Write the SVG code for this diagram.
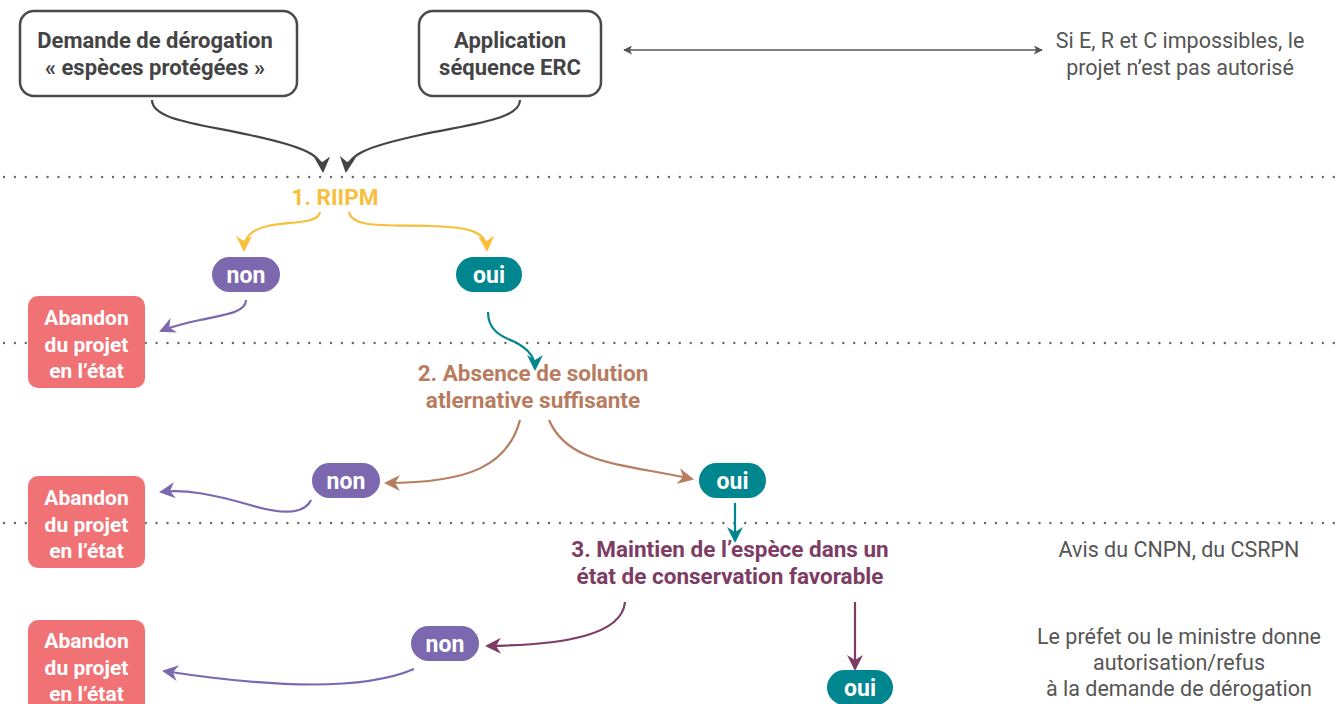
<svg xmlns="http://www.w3.org/2000/svg" width="1335" height="704" viewBox="0 0 1335 704">
<style>
.bx{fill:#fff;stroke:#4a4a4a;stroke-width:2.5}
.bt{font-family:Roboto,"Liberation Sans",sans-serif;font-weight:bold;font-size:22px;fill:#444;text-anchor:middle}
.nt{font-family:Roboto,"Liberation Sans",sans-serif;font-size:21.5px;fill:#555;text-anchor:middle}
.st{font-family:Roboto,"Liberation Sans",sans-serif;font-weight:bold;font-size:22.5px;text-anchor:middle}
.pt{font-family:Roboto,"Liberation Sans",sans-serif;font-weight:bold;font-size:23px;fill:#fff;text-anchor:middle}
.at{font-family:Roboto,"Liberation Sans",sans-serif;font-weight:bold;font-size:21px;fill:#fff;text-anchor:middle}
.ab{fill:#F07275}
.non{fill:#7B68AE}
.oui{fill:#00868F}
.dot{stroke:#666;stroke-width:2.4;stroke-dasharray:0 10.9;stroke-linecap:round;fill:none}
.c{fill:none;stroke-width:2.2}
</style>
<defs>
<marker id="mk" viewBox="0 0 16 16" refX="14" refY="8" markerWidth="16" markerHeight="16" markerUnits="userSpaceOnUse" orient="auto"><path d="M0,0 L16,8 L0,16 L5,8 z" fill="#444"/></marker>
<marker id="my" viewBox="0 0 16 16" refX="14" refY="8" markerWidth="16" markerHeight="16" markerUnits="userSpaceOnUse" orient="auto"><path d="M0,0 L16,8 L0,16 L5,8 z" fill="#F9BE3B"/></marker>
<marker id="mp" viewBox="0 0 16 16" refX="14" refY="8" markerWidth="16" markerHeight="16" markerUnits="userSpaceOnUse" orient="auto"><path d="M0,0 L16,8 L0,16 L5,8 z" fill="#7B68AE"/></marker>
<marker id="mt" viewBox="0 0 16 16" refX="14" refY="8" markerWidth="16" markerHeight="16" markerUnits="userSpaceOnUse" orient="auto"><path d="M0,0 L16,8 L0,16 L5,8 z" fill="#00868F"/></marker>
<marker id="mb" viewBox="0 0 16 16" refX="14" refY="8" markerWidth="16" markerHeight="16" markerUnits="userSpaceOnUse" orient="auto"><path d="M0,0 L16,8 L0,16 L5,8 z" fill="#B87D60"/></marker>
<marker id="mm" viewBox="0 0 16 16" refX="14" refY="8" markerWidth="16" markerHeight="16" markerUnits="userSpaceOnUse" orient="auto"><path d="M0,0 L16,8 L0,16 L5,8 z" fill="#7D3C64"/></marker>
<marker id="ms" viewBox="0 0 10 10" refX="9" refY="5" markerWidth="9" markerHeight="9" markerUnits="userSpaceOnUse" orient="auto-start-reverse"><path d="M0,0 L10,5 L0,10 L2.5,5 z" fill="#555"/></marker>
</defs>

<g id="separators">
<line class="dot" x1="4" y1="177" x2="1335" y2="177"/>
<line class="dot" x1="4" y1="343" x2="1335" y2="343"/>
<line class="dot" x1="4" y1="523" x2="1335" y2="523"/>
</g>

<g id="connectors">
<path class="c" stroke="#444" stroke-width="2.5" d="M152,100 C152,120 200,124 250,135 C305,147 322,155 323,171" marker-end="url(#mk)"/>
<path class="c" stroke="#444" stroke-width="2.5" d="M520,100 C520,120 470,124 420,135 C365,147 348,155 346,171" marker-end="url(#mk)"/>
<line stroke="#555" stroke-width="1.5" x1="624" y1="50" x2="1042" y2="50" marker-start="url(#ms)" marker-end="url(#ms)"/>
<path class="c" stroke="#F9BE3B" d="M320,212 C318,224 292,221 268,226 C250,230 244,238 244,250" marker-end="url(#my)"/>
<path class="c" stroke="#F9BE3B" d="M349,212 C352,228 385,225 430,226 C472,227 486,232 487,250" marker-end="url(#my)"/>
<path class="c" stroke="#7B68AE" d="M246,300 C246,313 222,315 200,320 C182,324 170,327 161,331" marker-end="url(#mp)"/>
<path class="c" stroke="#00868F" d="M488,312 C488,330 500,336 515,342 C530,350 535,358 535,369" marker-end="url(#mt)"/>
<path class="c" stroke="#B87D60" d="M520,420 C508,465 470,483 386,483" marker-end="url(#mb)"/>
<path class="c" stroke="#B87D60" d="M549,420 C568,465 625,464 692,479" marker-end="url(#mb)"/>
<path class="c" stroke="#7B68AE" d="M311,500 C304,515 280,514 250,505 C212,494 185,489 161,492" marker-end="url(#mp)"/>
<line class="c" stroke="#00868F" x1="735" y1="503" x2="735" y2="541" marker-end="url(#mt)"/>
<path class="c" stroke="#7D3C64" d="M625,602 C622,635 565,645 487,646" marker-end="url(#mm)"/>
<line class="c" stroke="#7D3C64" x1="855" y1="602" x2="855" y2="669" marker-end="url(#mm)"/>
<path class="c" stroke="#7B68AE" d="M414,669 C365,690 280,689 164,671" marker-end="url(#mp)"/>
</g>

<g id="demande">
<rect class="bx" x="20" y="11" width="277" height="85" rx="14"/>
<text class="bt" x="155" y="48">Demande de dérogation</text>
<text class="bt" x="155" y="75">« espèces protégées »</text>
</g>
<g id="erc">
<rect class="bx" x="419" y="11" width="182" height="85" rx="14"/>
<text class="bt" x="510" y="48">Application</text>
<text class="bt" x="510" y="75">séquence ERC</text>
</g>
<g id="note-erc">
<text class="nt" x="1180" y="48">Si E, R et C impossibles, le</text>
<text class="nt" x="1180" y="75">projet n’est pas autorisé</text>
</g>

<g id="riipm"><text class="st" fill="#F9BE3B" x="335" y="205">1. RIIPM</text></g>
<g id="non1"><rect class="non" x="212" y="257" width="68" height="35" rx="17.5"/><text class="pt" x="246" y="283">non</text></g>
<g id="oui1"><rect class="oui" x="456" y="257" width="66" height="35" rx="17.5"/><text class="pt" x="489" y="283">oui</text></g>
<g id="abandon1"><rect class="ab" x="28" y="296" width="117" height="92" rx="10"/>
<text class="at" x="86.5" y="325">Abandon</text><text class="at" x="86.5" y="352">du projet</text><text class="at" x="86.5" y="378">en l’état</text></g>

<g id="absence"><text class="st" fill="#B87D60" x="533" y="381">2. Absence de solution</text><text class="st" fill="#B87D60" x="533" y="408">atlernative suffisante</text></g>
<g id="non2"><rect class="non" x="312" y="463" width="68" height="35" rx="17.5"/><text class="pt" x="346" y="489">non</text></g>
<g id="oui2"><rect class="oui" x="699" y="463" width="67" height="35" rx="17.5"/><text class="pt" x="732.5" y="489">oui</text></g>
<g id="abandon2"><rect class="ab" x="28" y="476" width="117" height="92" rx="10"/>
<text class="at" x="86.5" y="505">Abandon</text><text class="at" x="86.5" y="532">du projet</text><text class="at" x="86.5" y="558">en l’état</text></g>

<g id="maintien"><text class="st" fill="#7D3C64" x="730" y="557">3. Maintien de l’espèce dans un</text><text class="st" fill="#7D3C64" x="730" y="584">état de conservation favorable</text></g>
<g id="note-cnpn"><text class="nt" x="1179" y="557">Avis du CNPN, du CSRPN</text></g>
<g id="non3"><rect class="non" x="411" y="626" width="68" height="35" rx="17.5"/><text class="pt" x="445" y="652">non</text></g>
<g id="oui3"><rect class="oui" x="827" y="670" width="66" height="35" rx="17.5"/><text class="pt" x="860" y="696">oui</text></g>
<g id="abandon3"><rect class="ab" x="28" y="620" width="117" height="95" rx="10"/>
<text class="at" x="86.5" y="648">Abandon</text><text class="at" x="86.5" y="675">du projet</text><text class="at" x="86.5" y="701">en l’état</text></g>
<g id="note-prefet">
<text class="nt" x="1179" y="644">Le préfet ou le ministre donne</text>
<text class="nt" x="1179" y="670">autorisation/refus</text>
<text class="nt" x="1179" y="696">à la demande de dérogation</text>
</g>
</svg>
